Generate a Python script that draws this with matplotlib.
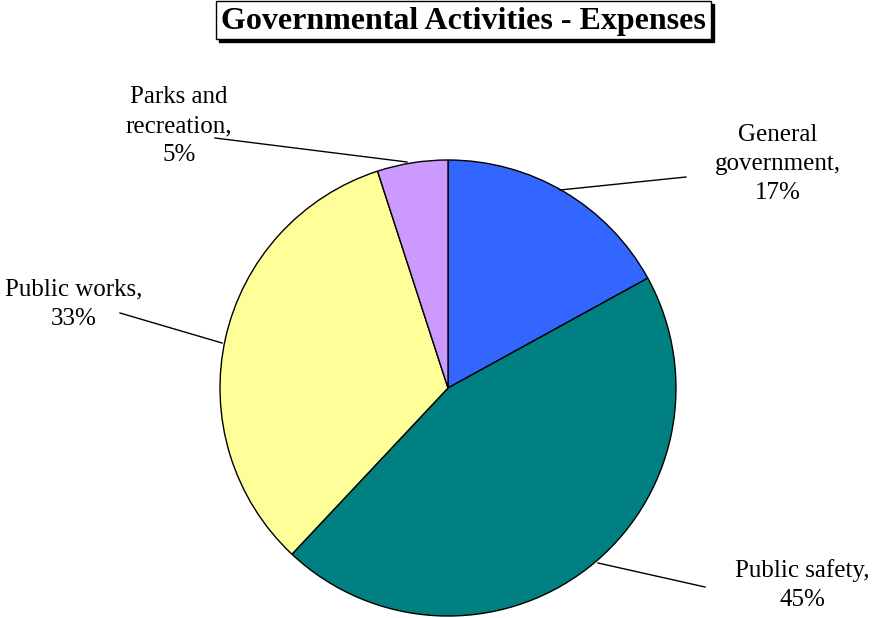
import matplotlib.pyplot as plt
from matplotlib.patches import Rectangle

categories = ['General\ngovernment,', 'Public safety,', 'Public works,', 'Parks and\nrecreation,']
shares = [17, 45, 33, 5]
colors = ['#3366FF', '#008080', '#FFFF99', '#CC99FF']

plt.rcParams['font.family'] = ['Liberation Serif', 'DejaVu Serif']

W, H = 874, 618
fig = plt.figure(figsize=(W / 100, H / 100), dpi=100)
ax = fig.add_axes([0, 0, 1, 1])

cx, cy, r = 448, H - 388, 228
ax.pie(shares, colors=colors, startangle=90, counterclock=False,
       center=(cx, cy), radius=r, frame=True,
       wedgeprops=dict(edgecolor='black', linewidth=1.0))
ax.set_xlim(0, W)
ax.set_ylim(0, H)
ax.set_aspect('equal')
ax.axis('off')

# leader lines: (start on slice, end near label), label centre
leaders = [
    ((560, 190), (686, 177), (778, 164)),
    ((598, 563), (705, 587), (802, 585)),
    ((222, 343), (120, 313), (74, 304)),
    ((407, 162), (215, 138), (179, 126)),
]
for name, pct, (p0, p1, lab) in zip(categories, shares, leaders):
    ax.plot([p0[0], p1[0]], [H - p0[1], H - p1[1]], color='black', lw=1.0)
    ax.text(lab[0], H - lab[1], f'{name}\n{pct}%', ha='center', va='center',
            fontsize=18, linespacing=1.42)

# title box with drop shadow
x0, x1, y0, y1 = 216, 711, 1, 39
ax.add_patch(Rectangle((x0 + 3, H - y1 - 3), x1 - x0, y1 - y0,
                       facecolor='black', edgecolor='black', zorder=5))
ax.add_patch(Rectangle((x0, H - y1), x1 - x0, y1 - y0,
                       facecolor='white', edgecolor='black', lw=1.0, zorder=6))
ax.text((x0 + x1) / 2, H - (y0 + y1) / 2 - 1, 'Governmental Activities - Expenses',
        ha='center', va='center', fontsize=23, fontweight='bold', zorder=7)

fig.savefig('out.png', dpi=100)
